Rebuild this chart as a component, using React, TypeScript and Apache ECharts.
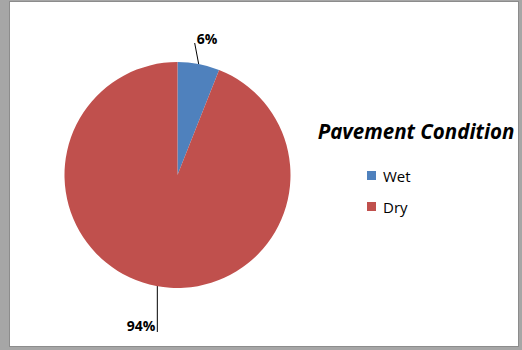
import React, { useEffect, useRef } from "react";
import * as echarts from "echarts";

const categories = ["Wet", "Dry"];
const shares = [6, 94];
const colors = ["#4F81BD", "#C0504D"];
const legendTitle = "Pavement Condition";

export default function App() {
  const ref = useRef<HTMLDivElement>(null);

  useEffect(() => {
    document.body.style.margin = "0";
    const chart = echarts.init(ref.current!, undefined, { renderer: "svg" });
    chart.setOption({
      animation: false,
      backgroundColor: "transparent",
      title: {
        text: legendTitle,
        left: 416,
        top: 121,
        padding: 0,
        textAlign: "center",
        textStyle: {
          fontFamily: "Open Sans",
          fontSize: 20.5,
          fontWeight: "bold",
          fontStyle: "italic",
          color: "#000",
        },
      },
      legend: {
        orient: "vertical",
        left: 367,
        top: 167,
        padding: 0,
        itemWidth: 9,
        itemHeight: 9,
        itemGap: 14,
        icon: "rect",
        data: categories,
        textStyle: {
          fontFamily: "Open Sans",
          fontSize: 15,
          lineHeight: 17,
          color: "#000",
          padding: [0, 0, 0, 2],
        },
      },
      series: [
        {
          type: "pie",
          center: [177.5, 175],
          radius: 113,
          startAngle: 90,
          clockwise: true,
          data: categories.map((name, i) => ({
            name,
            value: shares[i],
            itemStyle: { color: colors[i] },
          })),
          label: {
            show: true,
            position: "outside",
            formatter: "{c}%",
            fontFamily: "Open Sans",
            fontSize: 14,
            fontWeight: "bold",
            color: "#000",
          },
          labelLine: {
            show: true,
            length: 22,
            length2: 0,
            lineStyle: { color: "#000", width: 1 },
          },
          // Leader lines: the small slice's rises almost straight up with the
          // label to its right; the large slice's drops straight down with
          // the label right-aligned against its foot.
          labelLayout: (params: any) => {
            const pts = params.labelLinePoints;
            if (!pts) return {};
            const [sx, sy] = pts[0];
            if (params.dataIndex === 0) {
              const ex = sx - 4;
              const ey = sy - 21;
              return {
                x: ex + 2,
                y: ey - 5,
                align: "left",
                verticalAlign: "middle",
                labelLinePoints: [
                  [sx, sy],
                  [ex, ey],
                  [ex, ey],
                ],
              };
            }
            const ex = sx + 1;
            const ey = sy + 46;
            return {
              x: ex - 2,
              y: ey + 1,
              align: "right",
              verticalAlign: "bottom",
              labelLinePoints: [
                [ex, sy],
                [ex, ey],
                [ex, ey],
              ],
            };
          },
          emphasis: { disabled: true },
        },
      ],
    });
    return () => chart.dispose();
  }, []);

  return (
    <div style={{ position: "relative", width: 522, height: 350, background: "#a6a6a6" }}>
      <div
        style={{
          position: "absolute",
          left: 9,
          top: 1,
          width: 508,
          height: 344,
          background: "#fff",
          border: "1px solid #8c8c8c",
        }}
      />
      <div ref={ref} style={{ position: "absolute", left: 0, top: 0, width: 522, height: 350 }} />
    </div>
  );
}
